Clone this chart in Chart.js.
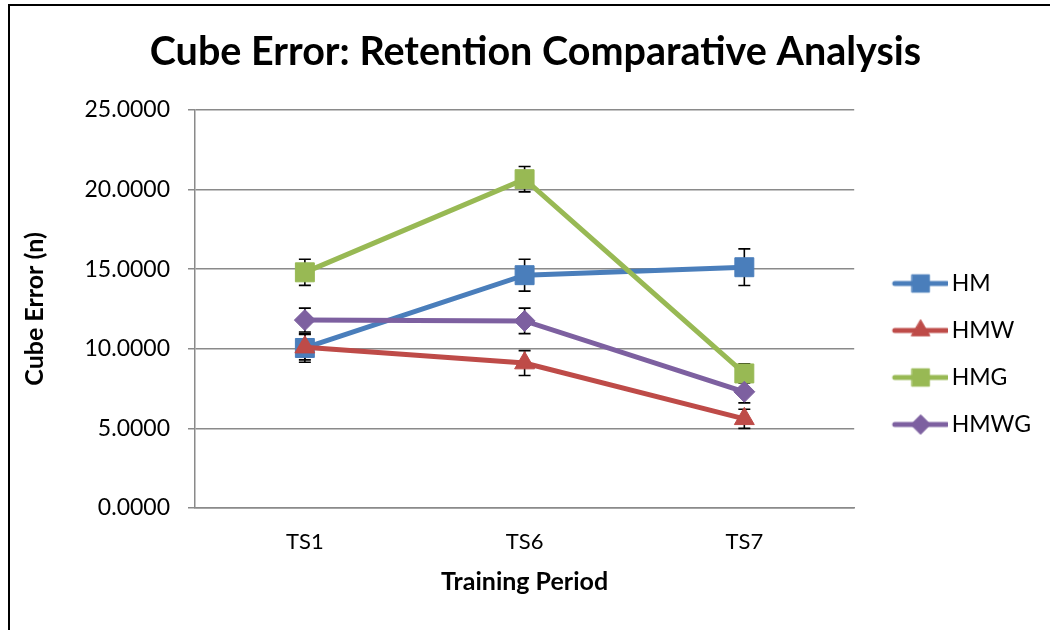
<!DOCTYPE html>
<html>
<head>
<meta charset="utf-8">
<script src="https://cdn.jsdelivr.net/npm/chart.js@4.4.1/dist/chart.umd.min.js"></script>
<style>
  html, body { margin: 0; padding: 0; background: #fff; }
  #wrap { position: relative; width: 1050px; height: 630px; overflow: hidden; }
  #frame { position: absolute; left: 8px; top: 4px; width: 1050px; height: 640px;
           border-top: 2px solid #000; border-left: 2px solid #000; pointer-events: none; }
  canvas { position: absolute; left: 0; top: 0; }
</style>
</head>
<body>
<div id="wrap">
  <canvas id="chart" width="1050" height="630"></canvas>
  <div id="frame"></div>
</div>
<script>
// ---- data ----
const periods = ['TS1', 'TS6', 'TS7'];
const seriesNames = ['HM', 'HMW', 'HMG', 'HMWG'];
const hmValues = [10.05, 14.62, 15.12];
const hmwValues = [10.1, 9.1, 5.6];
const hmgValues = [14.8, 20.65, 8.45];
const hmwgValues = [11.8, 11.75, 7.3];
const hmErrors = [0.9, 1.0, 1.15];
const hmwErrors = [0.8, 0.78, 0.6];
const hmgErrors = [0.82, 0.8, 0.6];
const hmwgErrors = [0.75, 0.8, 0.7];
const yTicks = [0, 5, 10, 15, 20, 25];

// ---- styling ----
const FONT = 'Lato, "Open Sans", sans-serif';
const colors = ['#4A7EBB', '#BE4B48', '#98B954', '#7D60A0'];
const markers = ['rect', 'triangle', 'rect', 'rectRot'];
const markerRadius = [13.4, 11.5, 13.4, 10.5];
const gridColor = '#8a8a8a';

const values = [hmValues, hmwValues, hmgValues, hmwgValues];
const errors = [hmErrors, hmwErrors, hmgErrors, hmwgErrors];

// legend icon: line sample with the marker in the middle
function legendIcon(i) {
  const c = document.createElement('canvas');
  c.width = 77; c.height = 24;
  const ctx = c.getContext('2d');
  ctx.strokeStyle = colors[i];
  ctx.fillStyle = colors[i];
  ctx.lineWidth = 5;
  ctx.lineCap = 'round';
  ctx.beginPath();
  ctx.moveTo(24, 12);
  ctx.lineTo(76, 12);
  ctx.stroke();
  ctx.lineWidth = 1;
  Chart.helpers.drawPoint(ctx, { pointStyle: markers[i], radius: markerRadius[i] * 0.92, rotation: 0, borderWidth: 1 }, 50, 12);
  return c;
}
const icons = seriesNames.map((n, i) => legendIcon(i));

// error bars drawn behind the series
const errorBars = {
  id: 'errorBars',
  beforeDatasetsDraw(chart) {
    const ctx = chart.ctx;
    const y = chart.scales.y;
    ctx.save();
    ctx.strokeStyle = '#000';
    ctx.lineWidth = 1.6;
    chart.data.datasets.forEach((ds, i) => {
      const meta = chart.getDatasetMeta(i);
      meta.data.forEach((pt, j) => {
        const v = ds.data[j], e = errors[i][j];
        const top = y.getPixelForValue(v + e);
        const bot = y.getPixelForValue(v - e);
        ctx.beginPath();
        ctx.moveTo(pt.x, top); ctx.lineTo(pt.x, bot);
        ctx.moveTo(pt.x - 6, top); ctx.lineTo(pt.x + 6, top);
        ctx.moveTo(pt.x - 6, bot); ctx.lineTo(pt.x + 6, bot);
        ctx.stroke();
      });
    });
    ctx.restore();
  }
};

new Chart(document.getElementById('chart'), {
  type: 'line',
  data: {
    labels: periods,
    datasets: seriesNames.map((name, i) => ({
      label: name,
      data: values[i],
      borderColor: colors[i],
      backgroundColor: colors[i],
      borderWidth: 5,
      tension: 0,
      pointStyle: markers[i],
      pointRadius: markerRadius[i],
      pointHoverRadius: markerRadius[i],
      pointBorderWidth: 1,
      order: seriesNames.length - i,
    })),
  },
  options: {
    responsive: false,
    animation: false,
    layout: { padding: { left: 30, right: 9, top: 10, bottom: 10 } },
    plugins: {
      title: {
        display: true,
        text: 'Cube Error: Retention Comparative Analysis',
        color: '#000',
        font: { family: FONT, size: 39.5, weight: 'bold' },
        padding: { top: 19, bottom: 33.5 },
      },
      legend: {
        position: 'right',
        title: { display: true, text: '', font: { size: 10 }, padding: { top: 66, bottom: 0 } },
        labels: {
          usePointStyle: true,
          pointStyleWidth: 62,
          padding: 24,
          color: '#000',
          font: { family: FONT, size: 23 },
          sort: (a, b) => a.datasetIndex - b.datasetIndex,
          generateLabels(chart) {
            const items = Chart.defaults.plugins.legend.labels.generateLabels(chart);
            items.forEach(it => { it.pointStyle = icons[it.datasetIndex]; });
            return items;
          },
        },
      },
      tooltip: { enabled: false },
    },
    scales: {
      x: {
        offset: true,
        grid: { display: false, drawTicks: false },
        border: { color: gridColor, width: 1.5 },
        ticks: { color: '#000', padding: 21, font: { family: FONT, size: 22 } },
        title: {
          display: true,
          text: 'Training Period',
          color: '#000',
          font: { family: FONT, size: 25, weight: 'bold' },
          padding: { top: 0, bottom: 23 },
        },
        afterFit(scale) { scale.height = 112; },
      },
      y: {
        min: 0,
        max: 25,
        afterBuildTicks(scale) { scale.ticks = yTicks.map(v => ({ value: v })); },
        grid: { color: gridColor, lineWidth: 1.5, tickLength: 7 },
        border: { color: gridColor, width: 1.5 },
        ticks: {
          color: '#000',
          padding: 18,
          font: { family: FONT, size: 23 },
          callback: v => Number(v).toFixed(4),
        },
        title: {
          display: true,
          text: 'Cube Error (n)',
          color: '#000',
          font: { family: FONT, size: 25, weight: 'bold' },
          padding: { top: -10, bottom: 0 },
        },
        afterFit(scale) { scale.width = 165; },
      },
    },
  },
  plugins: [errorBars],
});
</script>
</body>
</html>
